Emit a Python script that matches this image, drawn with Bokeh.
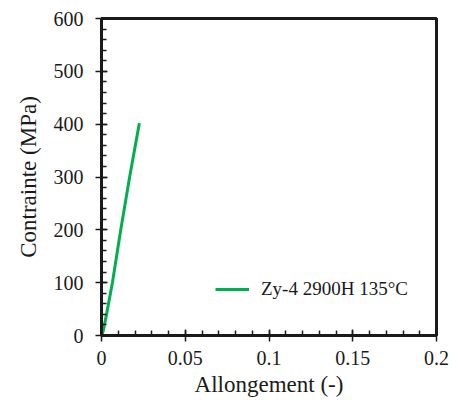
from bokeh.plotting import figure
from bokeh.models import SingleIntervalTicker, CustomJSTickFormatter, Legend, LegendItem, Range1d
from bokeh.embed import file_html
from bokeh.resources import INLINE

# data
strain = [0.0, 0.001, 0.003, 0.0065, 0.0115, 0.0168, 0.0226]
stress = [0.0, 8.0, 40.0, 100.0, 200.0, 300.0, 402.0]
series_label = "Zy-4 2900H 135°C"
x_title = "Allongement (-)"
y_title = "Contrainte (MPa)"

p = figure(width=452, height=406, output_backend="svg", toolbar_location=None,
           x_range=Range1d(0, 0.2), y_range=Range1d(0, 600),
           min_border_left=101, min_border_right=16, min_border_top=18, min_border_bottom=71)
p.grid.visible = False
p.outline_line_color = "#1a1a1a"
p.outline_line_width = 3
p.background_fill_color = "white"
p.border_fill_color = "white"

r = p.line(strain, stress, line_color="#00B050", line_width=3)

p.xaxis.ticker = SingleIntervalTicker(interval=0.05, num_minor_ticks=5)
p.yaxis.ticker = SingleIntervalTicker(interval=100, num_minor_ticks=5)
p.xaxis.formatter = CustomJSTickFormatter(code="return String(Math.round(tick*100)/100);")

for ax in (p.xaxis[0], p.yaxis[0]):
    ax.axis_line_width = 3
    ax.axis_line_color = "#1a1a1a"
    ax.major_tick_line_color = "#1a1a1a"
    ax.major_tick_line_width = 1.5
    ax.minor_tick_line_color = "#1a1a1a"
    ax.minor_tick_line_width = 1.5
    ax.major_tick_in = 6
    ax.major_tick_out = 6
    ax.minor_tick_in = 5
    ax.minor_tick_out = 0
    ax.major_label_text_font = "Liberation Serif"
    ax.major_label_text_font_size = "20px"
    ax.major_label_text_color = "#1a1a1a"
    ax.axis_label_text_font = "Liberation Serif"
    ax.axis_label_text_font_size = "23px"
    ax.axis_label_text_font_style = "normal"
    ax.axis_label_text_color = "#1a1a1a"

p.xaxis.axis_label = x_title
p.yaxis.axis_label = y_title
p.xaxis.major_label_standoff = 9
p.yaxis.major_label_standoff = 12
p.xaxis.axis_label_standoff = 4
p.yaxis.axis_label_standoff = 10

legend = Legend(items=[LegendItem(label=series_label, renderers=[r])],
                location=(114, 35), border_line_color=None, background_fill_alpha=0,
                glyph_width=34, label_text_font="Liberation Serif", label_text_font_size="19px",
                label_text_color="#1a1a1a", padding=5, label_standoff=12)
p.add_layout(legend)

open("out.html", "w").write(file_html(p, INLINE))
